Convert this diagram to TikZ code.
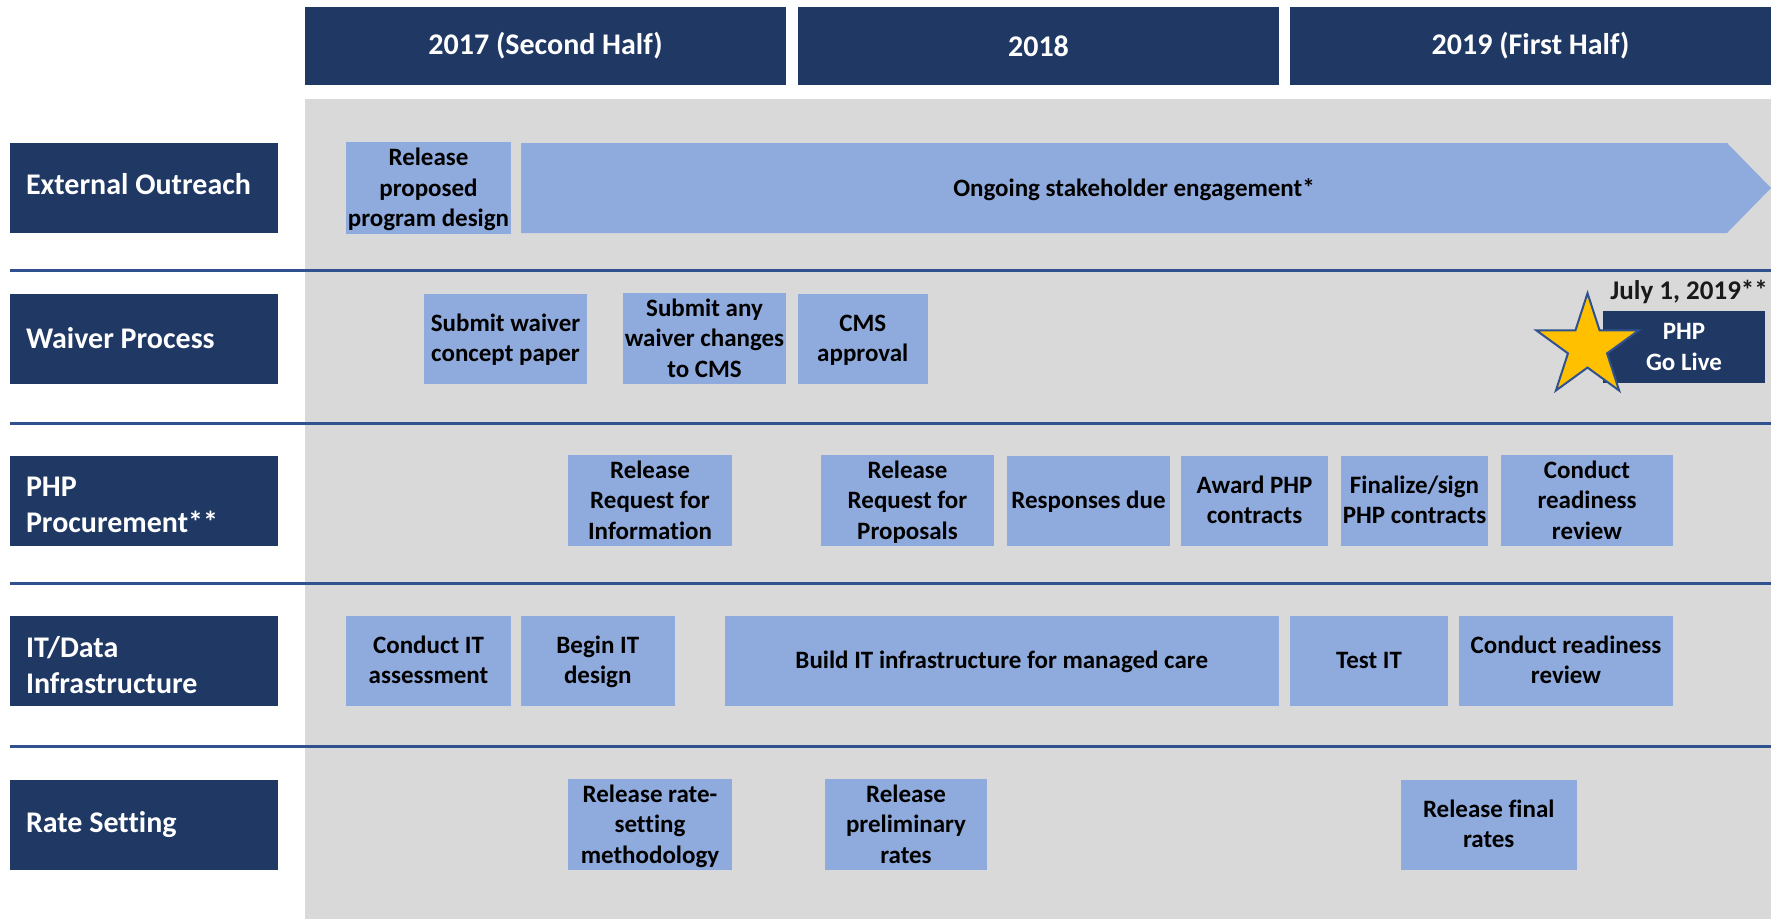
\documentclass[tikz,border=0pt]{standalone}
\usepackage{fontspec}
\setmainfont{Carlito}[Ligatures=CommonOff]
\usetikzlibrary{shapes.geometric}

\definecolor{navy}{HTML}{203864}
\definecolor{taskblue}{HTML}{8FAADC}
\definecolor{lanegray}{HTML}{D9D9D9}
\definecolor{rulecol}{HTML}{2F528F}
\definecolor{gold}{HTML}{FFC000}

% fixed line box for the 25pt task text, so every box centres alike
\newcommand\taskstrut{\rule[-7.25pt]{0pt}{30.5pt}}
\newcommand\lines[1]{\taskstrut#1\taskstrut}

\begin{document}
\begin{tikzpicture}[x=1pt,y=-1pt,
  yearhead/.style={fill=navy, text=white, inner sep=0pt,
    font=\bfseries\fontsize{30}{36}\selectfont,
    minimum width=481pt, minimum height=78pt},
  lanelabel/.style={fill=navy, anchor=west, inner sep=0pt,
    minimum width=267.5pt, minimum height=90pt},
  labeltext/.style={text=white, anchor=west, align=left, inner sep=0pt,
    font=\bfseries\fontsize{30}{36.5}\selectfont},
  taskbox/.style={fill=taskblue, text=black, inner sep=0pt, align=center,
    minimum height=90pt,
    font=\bfseries\fontsize{25}{30.5}\selectfont},
  divider/.style={draw=rulecol, line width=3pt},
]
\useasboundingbox (0,0) rectangle (1785,919);

% timeline backdrop
\fill[lanegray] (305,99) rectangle (1771,919);

% swimlane dividers
\foreach \yy in {270,423,583.5,746.5}
  \draw[divider] (9.8,\yy) -- (1771,\yy);

% year headers
\node[yearhead] (h2017) at (545.5,46) {2017 (Second Half)};
\node[yearhead] (h2018) at (1038.5,46) {2018};
\node[yearhead] (h2019) at (1530.5,46) {2019 (First Half)};

% lane labels
\node[lanelabel] (lOutreach) at (9.8,188)   {};
\node[lanelabel] (lWaiver)   at (9.8,338.5) {};
\node[lanelabel] (lProc)     at (9.8,500.5) {};
\node[lanelabel] (lIT)       at (9.8,660.5) {};
\node[lanelabel] (lRate)     at (9.8,824.5) {};
\node[labeltext, yshift=4pt]    (xOutreach) at ([xshift=16pt]lOutreach.west) {External Outreach};
\node[labeltext]                (xWaiver)   at ([xshift=16pt]lWaiver.west)   {Waiver Process};
\node[labeltext, yshift=-4.5pt] (xProc)     at ([xshift=16pt]lProc.west)     {PHP\\Procurement**};
\node[labeltext, yshift=-4.5pt] (xIT)       at ([xshift=16pt]lIT.west)       {IT/Data\\Infrastructure};
\node[labeltext]                (xRate)     at ([xshift=16pt]lRate.west)     {Rate Setting};

% external outreach
\node[taskbox, minimum width=165pt] (tDesign) at (428.5,188) {\lines{Release\\proposed\\program design}};
\fill[taskblue] (521,143) -- (1727,143) -- (1771,188) -- (1727,233) -- (521,233) -- cycle;
\node[font=\bfseries\fontsize{25}{30.5}\selectfont, inner sep=0pt] (tOngoing) at (1134,188) {\lines{Ongoing stakeholder engagement*}};

% waiver process
\node[taskbox, minimum width=163pt] (tConcept) at (505.5,338.5) {\lines{Submit waiver\\concept paper}};
\node[taskbox, minimum width=163pt] (tChanges) at (704.5,338.5) {\lines{Submit any\\waiver changes\\to CMS}};
\node[taskbox, minimum width=129.5pt] (tCMS) at (862.75,338.5) {\lines{CMS\\approval}};

% PHP procurement
\node[taskbox, minimum width=164pt] (tRFI) at (650,500.5) {\lines{Release\\Request for\\Information}};
\node[taskbox, minimum width=173pt] (tRFP) at (907.5,500.5) {\lines{Release\\Request for\\Proposals}};
\node[taskbox, minimum width=163pt] (tResp) at (1088.5,500.5) {\lines{Responses due}};
\node[taskbox, minimum width=147pt] (tAward) at (1254.5,500.5) {\lines{Award PHP\\contracts}};
\node[taskbox, minimum width=147pt] (tSign) at (1414.5,500.5) {\lines{Finalize/sign\\PHP contracts}};
\node[taskbox, minimum width=172pt] (tReadyP) at (1587,500.5) {\lines{Conduct\\readiness\\review}};

% IT / data infrastructure
\node[taskbox, minimum width=165pt] (tAssess) at (428.5,660.5) {\lines{Conduct IT\\assessment}};
\node[taskbox, minimum width=153.5pt] (tBegin) at (597.75,660.5) {\lines{Begin IT\\design}};
\node[taskbox, minimum width=554.5pt] (tBuild) at (1001.75,660.5) {\lines{Build IT infrastructure for managed care}};
\node[taskbox, minimum width=158pt] (tTest) at (1369,660.5) {\lines{Test IT}};
\node[taskbox, minimum width=214pt] (tReadyIT) at (1566,660.5) {\lines{Conduct readiness\\review}};

% rate setting
\node[taskbox, minimum width=164pt] (tMethod) at (650,824.5) {\lines{Release rate-\\setting\\methodology}};
\node[taskbox, minimum width=162pt] (tPrelim) at (906,824.5) {\lines{Release\\preliminary\\rates}};
\node[taskbox, minimum width=176.5pt] (tFinal) at (1488.75,824.5) {\lines{Release final\\rates}};

% go-live milestone
\node[fill=navy, text=white, inner sep=0pt, align=center,
      minimum width=162pt, minimum height=72pt,
      font=\bfseries\fontsize{25}{30.5}\selectfont] (goLive) at (1684,347) {\lines{PHP\\Go Live}};
\node[star, star points=5, star point ratio=2.618, minimum size=107.6pt,
      inner sep=0pt, fill=gold, draw=rulecol, line width=2pt] (goStar) at (1587.5,347) {};
\node[anchor=base east, inner sep=0pt, text=black!90,
      font=\bfseries\fontsize{27}{32}\selectfont] (goDate) at (1768,299.3) {July 1, 2019**};
\end{tikzpicture}
\end{document}
